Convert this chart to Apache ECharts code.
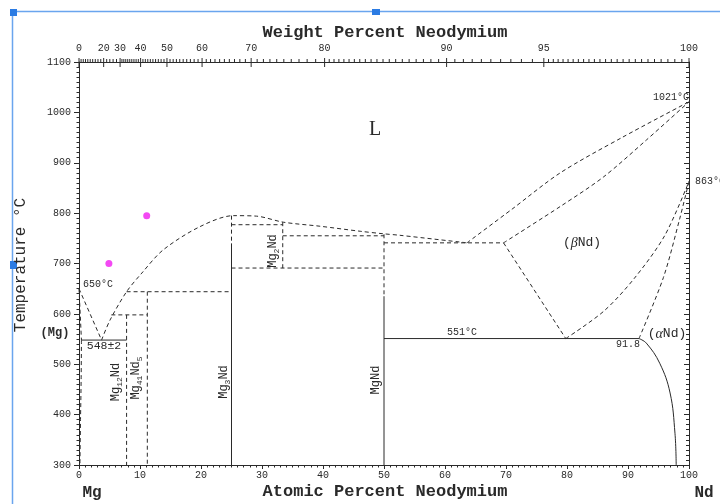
<!DOCTYPE html>
<html><head><meta charset="utf-8">
<script src="https://cdn.jsdelivr.net/npm/echarts@6/dist/echarts.min.js"></script>
<style>html,body{margin:0;padding:0;background:#fff}#c{width:720px;height:504px}</style>
</head><body><div id="c"></div>
<script>
// ---------- axis values ----------
const atomicTicks = [0,10,20,30,40,50,60,70,80,90,100];
const tempTicks = [300,400,500,600,700,800,900,1000,1100];
const wtLabels = [0,20,30,40,50,60,70,80,90,95,100];
const wtMinorRanges = [[0,30,2],[30,80,1],[80,95,0.5],[95,100,0.2]];

// ---------- phase boundaries (atomic % Nd, °C) ----------
const liqMgLeft   = [[0,650],[3.7,548]];
const mgSolidus   = [[0,650],[0.4,548]];
const mgSolvus    = [[0.4,548],[0.35,470],[0.25,390],[0.15,300]];
const liqMg3Nd    = [[3.7,548],[5.1,588],[7.8,644],[10.3,681],[13.8,727],[19.8,773],[25.3,795],[29.1,794],[33.5,782],[39.5,774],[46.1,764],[49.9,759],[52.6,756],[63.6,741]];
const eut548      = [[0.4,548],[7.8,548]];
const mg12Nd      = [[7.8,598],[7.8,300]];
const peri598     = [[5.3,598],[11.2,598]];
const mg41Nd5     = [[11.2,644],[11.2,300]];
const peri644     = [[7.8,644],[25,644]];
const mg3NdTop    = [[25,795],[25,740]];
const mg3NdLine   = [[25,740],[25,300]];
const line777     = [[25,777],[33.4,777]];
const mg2NdLine   = [[33.4,782],[33.4,691]];
const line691     = [[25,691],[50,691]];
const line755     = [[33.4,755],[50,755]];
const mgNdTop     = [[50,758],[50,635]];
const mgNdLine    = [[50,635],[50,300]];
const eut741      = [[50,741],[69.6,741]];
const liqNd       = [[63.6,741],[71,808],[78.9,880],[89,950],[100,1021]];
const solBetaNd   = [[69.6,741],[79,814],[86,872],[93,945],[100,1021]];
const betaLeft    = [[69.6,741],[79.8,551]];
const betaRight   = [[79.8,551],[86,605],[91,670],[96,755],[100,863]];
const alphaBound  = [[91.8,551],[95.8,672],[98.5,790],[100,863]];
const eut551      = [[50,551],[91.8,551]];
const alphaSolvus = [[91.8,551],[93.0,542],[95.2,502],[96.9,443],[97.7,363],[97.9,300]];
const magentaPts  = [[4.9,700],[11.1,795]];

// ---------- helpers ----------
const MONO = '"Liberation Mono","DejaVu Sans Mono",monospace';
const SERIF = '"Liberation Serif","DejaVu Serif",serif';
const INK = '#2a2a2a';
function wtToAt(w){ const a=w/144.24, b=(100-w)/24.305; return 100*a/(a+b); }

const topTicks = [];
wtMinorRanges.forEach(([s,e,st])=>{ for(let w=s; w<e-1e-9; w+=st){ topTicks.push({w:Math.round(w*10)/10, major:false}); } });
wtLabels.forEach(w=>{ const f=topTicks.find(t=>Math.abs(t.w-w)<1e-6); if(f) f.major=true; else topTicks.push({w, major:true}); });

function seg(data, dashed, smooth){
  return {type:'line', data, symbol:'none', showSymbol:false, silent:true, animation:false,
    smooth: smooth||false, z:3,
    lineStyle:{color:INK, width:1, type: dashed?[4,3]:'solid'}};
}

const series = [
  seg(liqMgLeft,true), seg(mgSolidus,true), seg(mgSolvus,true,0.3), seg(liqMg3Nd,true,0.3),
  seg(eut548,false), seg(mg12Nd,true), seg(peri598,true), seg(mg41Nd5,true), seg(peri644,true),
  seg(mg3NdTop,true), seg(mg3NdLine,false), seg(line777,true), seg(mg2NdLine,true),
  seg(line691,true), seg(line755,true), seg(mgNdTop,true), seg(mgNdLine,false), seg(eut741,true),
  seg(liqNd,true,0.3), seg(solBetaNd,true,0.3), seg(betaLeft,true), seg(betaRight,true,0.3),
  seg(alphaBound,true,0.3), seg(eut551,false), seg(alphaSolvus,false,0.4),
  {type:'scatter', data:magentaPts, symbolSize:7, itemStyle:{color:'#f01cf0'}, silent:true, z:4},
  {type:'custom', silent:true, clip:false, z:5,
    data: topTicks.map(t=>[wtToAt(t.w), 1100]),
    renderItem:(params, api)=>{
      const t = topTicks[params.dataIndex];
      const p = api.coord([api.value(0), api.value(1)]);
      const kids = [{type:'line', shape:{x1:p[0], y1:p[1]-(t.major?4:3), x2:p[0], y2:p[1]+(t.major?5:0)}, style:{stroke:INK, lineWidth:1}}];
      if (wtLabels.indexOf(t.w)>=0) kids.push({type:'text', x:p[0], y:p[1]-14,
        style:{text:String(t.w), fontFamily:MONO, fontSize:10, fill:INK, align:'center', verticalAlign:'middle'}});
      return {type:'group', children:kids};
    }}
];

function txt(x,y,text,size,opt){ return Object.assign({type:'text', x, y, silent:true, z:10,
  style:Object.assign({text, fontFamily:MONO, fontSize:size, fill:INK, align:'center', verticalAlign:'middle'}, (opt&&opt.style)||{})},
  opt&&opt.rotation!==undefined?{rotation:opt.rotation}:{}); }

const compRich = {m:{fontFamily:MONO, fontSize:12, fill:INK, lineHeight:16, verticalAlign:'middle'},
                  s:{fontFamily:MONO, fontSize:8, fill:INK, lineHeight:16, verticalAlign:'bottom'}};
function compound(x,y,str){ return {type:'text', x, y, rotation:Math.PI/2, silent:true, z:10,
  style:{text:str, rich:compRich, align:'center', verticalAlign:'middle'}}; }

const graphics = [
  // selection-frame decoration seen in the reference screenshot
  {type:'line', shape:{x1:12, y1:11.5, x2:720, y2:11.5}, style:{stroke:'#6aa5ee', lineWidth:1.5}, silent:true},
  {type:'line', shape:{x1:12.5, y1:11, x2:12.5, y2:504}, style:{stroke:'#6aa5ee', lineWidth:1.5}, silent:true},
  {type:'rect', shape:{x:10, y:9, width:7, height:7}, style:{fill:'#2b7be3'}, silent:true},
  {type:'rect', shape:{x:372, y:9, width:8, height:6}, style:{fill:'#2b7be3'}, silent:true},
  {type:'rect', shape:{x:10, y:261, width:7, height:8}, style:{fill:'#2b7be3'}, silent:true},
  // titles
  txt(385,33,'Weight Percent Neodymium',17,{style:{fontWeight:'bold'}}),
  txt(385,492,'Atomic Percent Neodymium',17,{style:{fontWeight:'bold'}}),
  txt(92,493,'Mg',16,{style:{fontWeight:'bold'}}),
  txt(704,493,'Nd',16,{style:{fontWeight:'bold'}}),
  txt(21,265,'Temperature °C',16,{rotation:Math.PI/2}),
  // region labels
  txt(375,130,'L',20,{style:{fontFamily:SERIF}}),
  txt(98,284,'650°C',10),
  txt(104,346,'548±2',11.5),
  txt(55,333,'(Mg)',12,{style:{fontWeight:'bold'}}),
  txt(462,332,'551°C',10),
  txt(628,344,'91.8',10),
  txt(671,97,'1021°C',10),
  txt(695,181,'863°C',10,{style:{align:'left'}}),
  {type:'text', x:582, y:243, silent:true, z:10, style:{text:'({a|β}Nd)', fontFamily:MONO, fontSize:13, fill:INK, align:'center', verticalAlign:'middle',
     rich:{a:{fontFamily:SERIF, fontStyle:'italic', fontSize:14, fill:INK}}}},
  {type:'text', x:667, y:334, silent:true, z:10, style:{text:'({a|α}Nd)', fontFamily:MONO, fontSize:13, fill:INK, align:'center', verticalAlign:'middle',
     rich:{a:{fontFamily:SERIF, fontStyle:'italic', fontSize:14, fill:INK}}}},
  compound(116,382,'{m|Mg}{s|12}{m|Nd}'),
  compound(136,378,'{m|Mg}{s|41}{m|Nd}{s|5}'),
  compound(224,382,'{m|Mg}{s|3}{m|Nd}'),
  compound(273,251,'{m|Mg}{s|2}{m|Nd}'),
  compound(376,380,'{m|MgNd}')
];

const axisLine = {show:true, onZero:false, lineStyle:{color:INK, width:1}};
const option = {
  animation:false,
  backgroundColor:'#fff',
  grid:{left:79, right:31, top:62, bottom:39, containLabel:false},
  xAxis:[
    {type:'value', position:'bottom', min:0, max:100, interval:10, axisLine,
     axisTick:{show:true, length:4, lineStyle:{color:INK}},
     minorTick:{show:true, splitNumber:10, length:2.5, lineStyle:{color:INK}},
     axisLabel:{fontFamily:MONO, fontSize:10, color:INK, margin:5,
       formatter:v=>atomicTicks.indexOf(v)>=0?String(v):''},
     splitLine:{show:false}},
    {type:'value', position:'top', min:0, max:100, axisLine,
     axisTick:{show:false}, axisLabel:{show:false}, splitLine:{show:false}}
  ],
  yAxis:[
    {type:'value', position:'left', min:300, max:1100, interval:100, axisLine,
     axisTick:{show:true, length:5, lineStyle:{color:INK}},
     minorTick:{show:true, splitNumber:10, length:2.5, lineStyle:{color:INK}},
     axisLabel:{fontFamily:MONO, fontSize:10, color:INK, margin:8,
       formatter:v=>tempTicks.indexOf(v)>=0?String(v):''},
     splitLine:{show:false}},
    {type:'value', position:'right', min:300, max:1100, interval:100, axisLine,
     axisTick:{show:true, inside:true, length:5, lineStyle:{color:INK}},
     minorTick:{show:true, splitNumber:10, length:3, lineStyle:{color:INK}},
     axisLabel:{show:false}, splitLine:{show:false}}
  ],
  series,
  graphic:graphics
};
const chart = echarts.init(document.getElementById('c'), null, {renderer:'canvas'});
chart.setOption(option);
</script>
</body></html>
